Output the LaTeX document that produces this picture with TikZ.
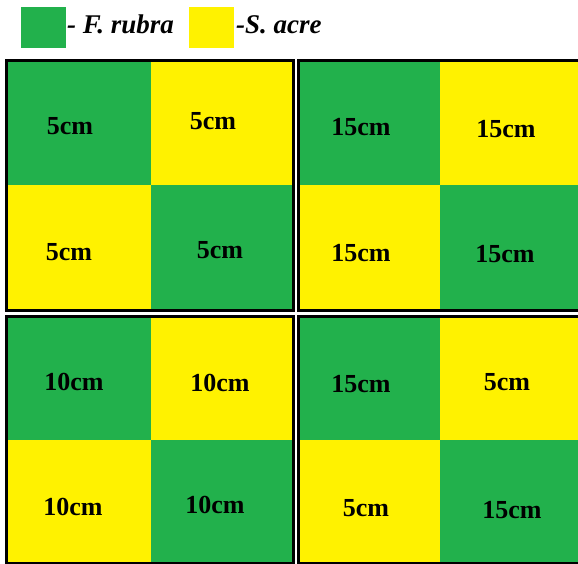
\documentclass[tikz,border=0pt]{standalone}
\usepackage{fontspec}
\setmainfont{Liberation Serif}
\definecolor{grass}{RGB}{34,177,76}
\definecolor{sedum}{RGB}{255,242,0}
\begin{document}
\begin{tikzpicture}[x=1pt,y=-1pt,
  lbl/.style={font=\fontsize{26}{26}\selectfont\bfseries, inner sep=0pt},
  key/.style={font=\fontsize{27}{27}\selectfont\bfseries\itshape, anchor=base west, inner sep=0pt},
  frame/.style={draw=black, line width=3pt}]
\useasboundingbox (0,0) rectangle (578,564);
\clip (0,0) rectangle (578,564);
\fill[white] (0,0) rectangle (578,564);

% legend
\fill[grass] (21,7) rectangle (66,48);
\node[key] (kf) at (67,34) {- F. rubra};
\fill[sedum] (189,7) rectangle (234,48);
\node[key] (ks) at (236,34) {-S. acre};

% top-left plot
\fill[grass] (6.5,60.5) rectangle (151,185);
\fill[sedum] (151,60.5) rectangle (293.5,185);
\fill[sedum] (6.5,185) rectangle (151,310.5);
\fill[grass] (151,185) rectangle (293.5,310.5);
\draw[frame] (6.5,60.5) rectangle (293.5,310.5);
\node[lbl] (a1) at (70,126) {5cm};
\node[lbl] (a2) at (213,121) {5cm};
\node[lbl] (a3) at (69,252) {5cm};
\node[lbl] (a4) at (220,250) {5cm};

% top-right plot
\fill[grass] (298.5,60.5) rectangle (440,185);
\fill[sedum] (440,60.5) rectangle (582,185);
\fill[sedum] (298.5,185) rectangle (440,310.5);
\fill[grass] (440,185) rectangle (582,310.5);
\draw[frame] (298.5,60.5) rectangle (582,310.5);
\node[lbl] (b1) at (361,127) {15cm};
\node[lbl] (b2) at (506,129) {15cm};
\node[lbl] (b3) at (361,253) {15cm};
\node[lbl] (b4) at (505,254) {15cm};

% bottom-left plot
\fill[grass] (6.5,316.5) rectangle (151,440);
\fill[sedum] (151,316.5) rectangle (293.5,440);
\fill[sedum] (6.5,440) rectangle (151,563.5);
\fill[grass] (151,440) rectangle (293.5,563.5);
\draw[frame] (6.5,316.5) rectangle (293.5,563.5);
\node[lbl] (c1) at (74,382) {10cm};
\node[lbl] (c2) at (220,383) {10cm};
\node[lbl] (c3) at (73,507) {10cm};
\node[lbl] (c4) at (215,505) {10cm};

% bottom-right plot
\fill[grass] (298.5,316.5) rectangle (440,440);
\fill[sedum] (440,316.5) rectangle (582,440);
\fill[sedum] (298.5,440) rectangle (440,563.5);
\fill[grass] (440,440) rectangle (582,563.5);
\draw[frame] (298.5,316.5) rectangle (582,563.5);
\node[lbl] (d1) at (361,384) {15cm};
\node[lbl] (d2) at (507,382) {5cm};
\node[lbl] (d3) at (366,508) {5cm};
\node[lbl] (d4) at (512,510) {15cm};
\end{tikzpicture}
\end{document}
